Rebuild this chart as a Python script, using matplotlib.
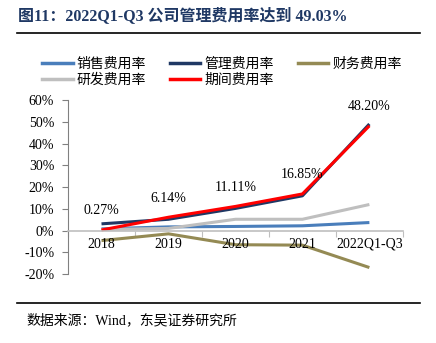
import numpy as np
import matplotlib.pyplot as plt
from matplotlib.lines import Line2D

plt.rcParams['font.family'] = ['Liberation Serif', 'Noto Sans CJK SC']
CJK = ['Noto Sans CJK SC', 'DejaVu Sans']
MIX = ['Liberation Serif', 'Noto Sans CJK SC']

years = ["2018", "2019", "2020", "2021", "2022Q1-Q3"]
sales = [0.8, 1.7, 1.9, 2.2, 3.7]
admin = [3.1, 5.2, 10.2, 16.0, 49.03]
finance = [-4.6, -1.5, -6.5, -6.7, -17.0]
rnd = [0.5, 1.0, 5.2, 5.2, 12.0]
period = [0.27, 6.14, 11.11, 16.85, 48.20]

series = [
    ("销售费用率", sales, "#4A7EBB"),
    ("管理费用率", admin, "#1F3864"),
    ("财务费用率", finance, "#948A54"),
    ("研发费用率", rnd, "#BFBFBF"),
    ("期间费用率", period, "#FF0000"),
]

fig = plt.figure(figsize=(4.36, 3.43), dpi=100)
ax = fig.add_axes([0.156, 0.201, 0.768, 0.507])

x = np.arange(len(years))
for name, vals, col in series:
    ax.plot(x, vals, color=col, lw=2.2, solid_capstyle='butt')

for xi, v in zip(x, period):
    ax.text(xi, v + 8.8, f"{v:.2f}%", ha='center', va='center', fontsize=10)

ax.set_xlim(-0.5, len(years) - 0.5)
ax.set_ylim(-20, 60)
ax.set_yticks(np.arange(-20, 61, 10))
ax.set_yticklabels([f"{t}%" for t in range(-20, 61, 10)], fontsize=10)
ax.tick_params(axis='y', direction='out', length=4, color='#808080', pad=6)

ax.spines['top'].set_visible(False)
ax.spines['right'].set_visible(False)
ax.spines['left'].set_color('#808080')
ax.spines['bottom'].set_position(('data', 0))
ax.spines['bottom'].set_color('#BFBFBF')
ax.spines['bottom'].set_linewidth(1.2)
ax.set_xticks(np.arange(-0.5, len(years), 1.0))
ax.set_xticklabels([])
ax.tick_params(axis='x', direction='out', length=4, color='#BFBFBF')
for xi, lab in zip(x, years):
    ax.text(xi, -3.2, lab, ha='center', va='top', fontsize=10)

# legend, filled column-wise so reorder to get rows
handles = [Line2D([0], [0], color=c, lw=2.5) for _, _, c in series]
labels = [n for n, _, _ in series]
order = [0, 3, 1, 4, 2]
leg = fig.legend([handles[i] for i in order], [labels[i] for i in order],
                 loc='upper left', bbox_to_anchor=(0.068, 0.87), ncol=3,
                 frameon=False, prop={'family': CJK, 'size': 10},
                 handlelength=2.2, handletextpad=0.3, columnspacing=1.7,
                 labelspacing=0.1)

# title and rules
fig.text(0.042, 0.953, "图11：2022Q1-Q3 公司管理费用率达到 49.03%", fontsize=11.5,
         fontweight='bold', color='#1F3864', va='center', family=MIX)
fig.add_artist(Line2D([0.04, 0.963], [0.903, 0.903], color='black', lw=1.2))
fig.add_artist(Line2D([0.04, 0.963], [0.118, 0.118], color='black', lw=1.2))
fig.text(0.06, 0.067, "数据来源：Wind，东吴证券研究所", fontsize=10, va='center',
         family=MIX)

fig.savefig("out.png", dpi=100)
